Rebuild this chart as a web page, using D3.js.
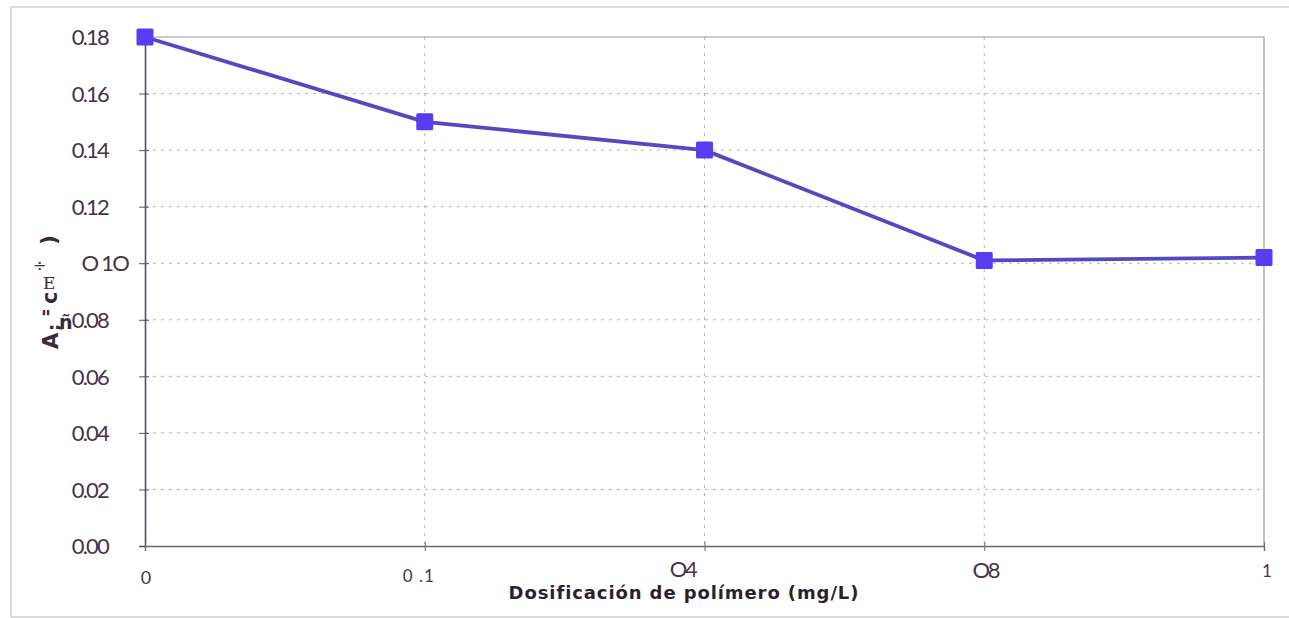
<!DOCTYPE html>
<html>
<head>
<meta charset="utf-8">
<script src="https://cdn.jsdelivr.net/npm/d3@7"></script>
<style>
  html, body { margin: 0; padding: 0; background: #fff; }
  svg { display: block; }
  .ytick text { font-family: Lato, "Open Sans", sans-serif; font-size: 22px; fill: #4a3348; letter-spacing: -1.8px; }
  .xlab { font-family: Lato, "Open Sans", sans-serif; fill: #4a3348; }
</style>
</head>
<body>
<svg id="chart" width="1289" height="618"></svg>
<script>
// Dosage categories (mg/L) and measured values
const doses = ["0", "0.1", "0.4", "0.8", "1"];
const values = [0.18, 0.15, 0.14, 0.101, 0.102];

// Tick labels as printed on the axes
const xTickLabels = ["0", "0 .1", "O4", "O8", "1"];
const yTicks = [0, 0.02, 0.04, 0.06, 0.08, 0.10, 0.12, 0.14, 0.16, 0.18];
const yTickLabels = ["0.00", "0.02", "0.04", "0.06", "0.08", "O 1O", "0.12", "0.14", "0.16", "0.18"];

const xTitle = "Dosificación de polímero (mg/L)";

const svg = d3.select("#chart");
const plot = { left: 145, right: 1264, top: 37, bottom: 546 };

// Outer frame
svg.append("rect")
  .attr("x", 11).attr("y", 7).attr("width", 1290).attr("height", 610)
  .attr("fill", "none").attr("stroke", "#cfcfcf").attr("stroke-width", 1.5);

const x = d3.scalePoint().domain(doses).range([plot.left, plot.right]).padding(0);
const y = d3.scaleLinear().domain([0, 0.18]).range([plot.bottom, plot.top]);

// Plot area border (top / right)
svg.append("path")
  .attr("d", `M${plot.left},${plot.top}H${plot.right}V${plot.bottom}`)
  .attr("fill", "none").attr("stroke", "#9a9a9a").attr("stroke-width", 1.2);

// Horizontal dotted gridlines
svg.append("g")
  .selectAll("line")
  .data(yTicks.filter(v => v > 0 && v < 0.18))
  .join("line")
  .attr("x1", plot.left).attr("x2", plot.right)
  .attr("y1", d => y(d)).attr("y2", d => y(d))
  .attr("stroke", "#b5b5b5").attr("stroke-width", 1)
  .attr("stroke-dasharray", "3,5");

// Vertical dotted gridlines
svg.append("g")
  .selectAll("line")
  .data(doses.slice(1, -1))
  .join("line")
  .attr("x1", d => x(d)).attr("x2", d => x(d))
  .attr("y1", plot.top).attr("y2", plot.bottom)
  .attr("stroke", "#b5b5b5").attr("stroke-width", 1)
  .attr("stroke-dasharray", "3,5");

// Y axis
const yAxis = d3.axisLeft(y)
  .tickValues(yTicks)
  .tickSize(6)
  .tickPadding(31)
  .tickFormat((d, i) => yTickLabels[i]);
const gy = svg.append("g")
  .attr("class", "ytick")
  .attr("transform", `translate(${plot.left},0)`)
  .call(yAxis);
gy.select(".domain").attr("stroke", "#5d4b5e").attr("stroke-width", 1.6);
gy.selectAll(".tick line").attr("stroke", "#5d4b5e").attr("x2", 4).attr("x1", -6);
gy.selectAll(".tick text").attr("dy", "0.35em");
gy.selectAll(".tick text").filter((d, i) => yTickLabels[i] === "O 1O")
  .attr("x", -17).attr("letter-spacing", "-0.8px");

// X axis
const xAxis = d3.axisBottom(x).tickSize(5).tickFormat("");
const gx = svg.append("g")
  .attr("transform", `translate(0,${plot.bottom})`)
  .call(xAxis);
gx.select(".domain").attr("stroke", "#6a6a6a").attr("stroke-width", 1.4);
gx.selectAll(".tick line").attr("stroke", "#6a6a6a").attr("y1", -4).attr("y2", 5);

// X tick labels, placed from the same point scale
const xLabelOffsets = [
  { dx: 1, y: 584, size: 18, spacing: 0, color: "#4a3348" },
  { dx: -6, y: 582, size: 17, spacing: 1, color: "#777" },
  { dx: -22, y: 577, size: 22, spacing: -2.5, color: "#4a3348" },
  { dx: 1, y: 578, size: 22, spacing: -2.5, color: "#4a3348" },
  { dx: 3, y: 577, size: 17, spacing: 0, color: "#555" }
];
svg.append("g")
  .selectAll("text")
  .data(doses)
  .join("text")
  .attr("class", "xlab")
  .attr("x", (d, i) => x(d) + xLabelOffsets[i].dx)
  .attr("y", (d, i) => xLabelOffsets[i].y)
  .attr("text-anchor", "middle")
  .attr("font-size", (d, i) => xLabelOffsets[i].size)
  .attr("letter-spacing", (d, i) => xLabelOffsets[i].spacing)
  .attr("fill", (d, i) => xLabelOffsets[i].color)
  .text((d, i) => xTickLabels[i]);

// X axis title
svg.append("text")
  .attr("x", 684).attr("y", 599)
  .attr("text-anchor", "middle")
  .attr("font-family", "'DejaVu Sans', Verdana, sans-serif")
  .attr("font-weight", "bold")
  .attr("font-size", 18)
  .attr("letter-spacing", "0.9px")
  .attr("fill", "#2e1f2e")
  .text(xTitle);

// Y axis title (scanned glyphs)
const yt = svg.append("g").attr("fill", "#3a2a3a");
const bold = "'DejaVu Sans', sans-serif";
yt.append("text")
  .attr("transform", "translate(58,349) rotate(-90)")
  .attr("font-family", bold).attr("font-weight", "bold")
  .attr("font-size", 21)
  .text("A");
yt.append("text")
  .attr("transform", "translate(60,331) rotate(-90)")
  .attr("font-family", bold).attr("font-weight", "bold")
  .attr("font-size", 18)
  .text(";");
yt.append("text")
  .attr("transform", "translate(57,304) rotate(-90)")
  .attr("font-family", bold).attr("font-weight", "bold")
  .attr("font-size", 21)
  .text("c");
yt.append("text")
  .attr("x", 41).attr("y", 324)
  .attr("font-family", bold).attr("font-weight", "bold")
  .attr("font-size", 19)
  .text("\"");
yt.append("text")
  .attr("x", 59).attr("y", 329)
  .attr("font-family", bold).attr("font-weight", "bold")
  .attr("font-size", 19)
  .text("ñ");
yt.append("text")
  .attr("x", 33).attr("y", 271)
  .attr("font-family", bold)
  .attr("font-size", 16)
  .text("÷");
yt.append("text")
  .attr("x", 43).attr("y", 289)
  .attr("font-family", "'DejaVu Serif', 'Liberation Serif', serif")
  .attr("font-size", 17)
  .text("E");
yt.append("text")
  .attr("transform", "translate(56,240) rotate(-90)")
  .attr("font-family", bold).attr("font-weight", "bold")
  .attr("font-size", 22)
  .attr("text-anchor", "middle")
  .text(")");

// Data line
const line = d3.line()
  .x((d, i) => x(doses[i]))
  .y(d => y(d));
svg.append("path")
  .datum(values)
  .attr("d", line)
  .attr("fill", "none")
  .attr("stroke", "#5548c0")
  .attr("stroke-width", 3.8)
  .attr("stroke-linejoin", "round");

// Square markers
const ms = 17;
svg.append("g")
  .selectAll("rect")
  .data(values)
  .join("rect")
  .attr("x", (d, i) => x(doses[i]) - ms / 2)
  .attr("y", d => y(d) - ms / 2)
  .attr("width", ms).attr("height", ms)
  .attr("rx", 1.5)
  .attr("fill", "#5a3cf0");
</script>
</body>
</html>
